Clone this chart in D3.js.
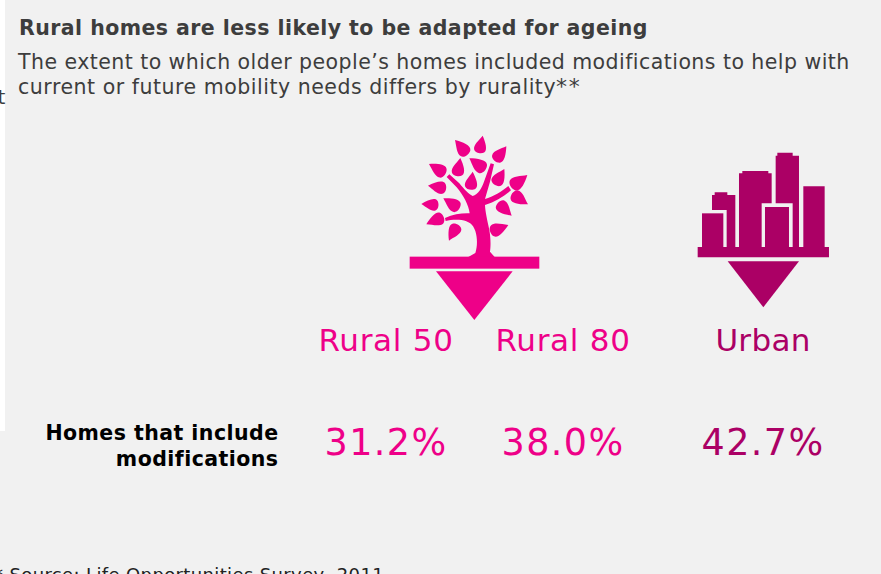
<!DOCTYPE html>
<html>
<head>
<meta charset="utf-8">
<style>
html,body{margin:0;padding:0;background:#f1f1f1;overflow:hidden}
svg{display:block}
text{font-family:"DejaVu Sans",Verdana,sans-serif}
</style>
<script src="https://cdn.jsdelivr.net/npm/d3@7"></script>
</head>
<body>
<svg id="chart" width="881" height="574"></svg>
<script>
// Figures shown in the comparison table
const categories = ["Rural 50", "Rural 80", "Urban"];
const modifiedHomes = [31.2, 38.0, 42.7];
const rowLabel = ["Homes that include", "modifications"];
const titleText = "Rural homes are less likely to be adapted for ageing";
const subtitleLines = [
  "The extent to which older people\u2019s homes included modifications to help with",
  "current or future mobility needs differs by rurality"
];
const footnoteMark = "**";
const sourceText = "* Source: Life Opportunities Survey, 2011";

const PINK = "#ee0088", PLUM = "#ab0065", INK = "#3d3d3d";

const svg = d3.select("#chart");
const x = d3.scaleOrdinal().domain(categories).range([386, 563, 763]);
const colour = d3.scaleOrdinal().domain(categories).range([PINK, PINK, PLUM]);
const pct = d3.format(".1f");

// Sliver of the host page showing down the left edge
svg.append("rect").attr("width", 5).attr("height", 431).attr("fill", "#fff");
svg.append("text").attr("x", -2.5).attr("y", 104).attr("font-size", 20).attr("fill", INK).text("t");

// Heading
svg.append("text").attr("x", 19).attr("y", 35).attr("font-size", 20.5)
  .attr("letter-spacing", 0.44).attr("font-weight", "bold").attr("fill", INK).text(titleText);
const sub = svg.append("g").selectAll("text").data(subtitleLines).join("text")
  .attr("x", 18).attr("y", (d, i) => 69 + i * 25)
  .attr("font-size", 20.5).attr("letter-spacing", (d, i) => i ? 0.52 : 0.45).attr("fill", INK).text(d => d);
sub.filter((d, i) => i === 1).append("tspan").attr("font-size", 22).attr("letter-spacing", 1.6).text(footnoteMark);

// Teardrop running from a pointed tip to a rounded end
function leaf([tx, ty, ex, ey]) {
  const dx = ex - tx, dy = ey - ty;
  const nx = -dy, ny = dx;
  const p = (a, b) => `${tx + dx * a + nx * b},${ty + dy * a + ny * b}`;
  return `M${tx},${ty}C${p(0.3, 0.16)} ${p(0.6, 0.42)} ${p(0.85, 0.33)}` +
         `C${p(1.05, 0.24)} ${p(1.05, -0.12)} ${p(0.92, -0.26)}C${p(0.75, -0.44)} ${p(0.35, -0.24)} ${tx},${ty}Z`;
}

// Tree icon, outlined on a 3x grid
const tree = svg.append("g").attr("transform", "translate(400,125) scale(0.3333)").attr("fill", PINK);
const leaves = [
  [165,45,203,88],[248,32,238,84],[319,64,286,108],[208,100,256,134],[181,99,172,153],
  [87,117,136,146],[84,182,138,190],[64,237,115,240],[79,298,130,275],[130,220,178,250],
  [147,347,172,299],[218,140,212,194],[313,132,286,180],[382,150,335,187],[384,238,336,207],
  [335,272,294,234],[325,300,272,322]
];
tree.selectAll("path.leaf").data(leaves).join("path").attr("class", "leaf").attr("d", leaf);
tree.append("path").attr("d",
  "M205,396L226,384C232,365 233,340 226,318C220,298 205,288 185,285C165,283 150,285 137,288L135,279" +
  "C160,268 185,264 209,265C206,240 190,210 170,187L140,156L148,148L178,175C195,195 205,207 218,213" +
  "C235,207 245,190 252,170L272,115L282,118L270,170L255,222C280,215 305,200 325,183L333,196" +
  "C310,215 285,230 255,240C256,262 262,285 268,315C273,345 272,365 270,380L284,396Z");
tree.append("rect").attr("x", 29).attr("y", 395).attr("width", 389).attr("height", 36);
tree.append("path").attr("d", "M108,439L338,439L223,585Z");

// Skyline icon, same grid
const city = svg.append("g").attr("transform", "translate(690,140) scale(0.3333)").attr("fill", PLUM);
[
  "M36,220H100V321H36Z",
  "M66,210V165H74V157H112V165H136V321H110V210Z",
  "M147,321V100H157V93H235V100H245V190H215V321Z",
  "M225,201H297V321H225Z",
  "M257,190V47H262V38H308V47H327V321H308V190Z",
  "M340,139H404V321H340Z",
  "M23,321H417V352H23Z",
  "M113,364H327L220,502Z"
].forEach(d => city.append("path").attr("d", d));

// Column headings and values
const cols = svg.append("g").selectAll("g").data(categories).join("g")
  .attr("transform", d => `translate(${x(d)},0)`)
  .attr("text-anchor", "middle").attr("fill", d => colour(d));
cols.append("text").attr("y", 350.5).attr("font-size", 31).attr("letter-spacing", d => d === "Urban" ? 0.3 : 0.72).text(d => d);
cols.append("text").attr("y", 455).attr("font-size", 36.5).attr("letter-spacing", 1.4).text((d, i) => pct(modifiedHomes[i]) + "%");

// Row heading
svg.append("g").selectAll("text").data(rowLabel).join("text")
  .attr("x", 278.5).attr("y", (d, i) => 440 + i * 26)
  .attr("text-anchor", "end").attr("font-size", 20.5).attr("letter-spacing", 0.45).attr("font-weight", "bold")
  .attr("fill", "#000").text(d => d);

// Source note, running off the bottom edge
svg.append("text").attr("x", -6).attr("y", 581).attr("font-size", 18).attr("letter-spacing", 0.37).attr("fill", "#222").text(sourceText);
</script>
</body>
</html>
